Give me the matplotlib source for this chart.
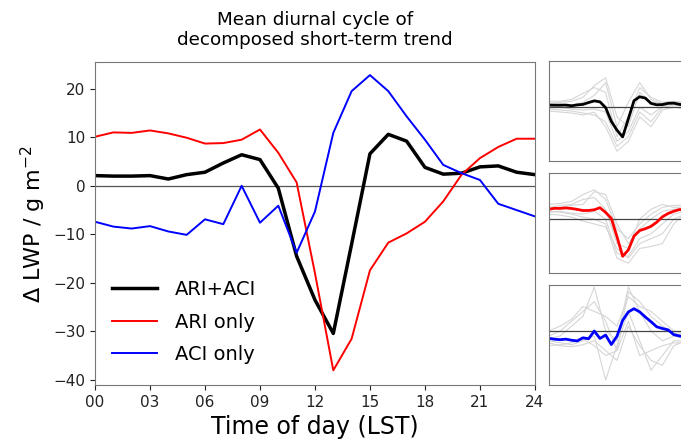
import numpy as np
import matplotlib.pyplot as plt

hours = np.arange(0, 25)
hours2 = np.arange(0, 25, 2)

# mean diurnal cycle (g m-2)
both = [2.1, 2.0, 2.0, 2.1, 1.4, 2.3, 2.8, 4.7, 6.4, 5.4, -0.5, -14.5, -23.5,
        -30.4, -12.0, 6.6, 10.6, 9.2, 3.8, 2.4, 2.6, 3.9, 4.1, 2.8, 2.3]
ari = [10.1, 11.0, 10.9, 11.4, 10.8, 9.9, 8.7, 8.8, 9.5, 11.6, 6.8, 0.7, -18.0,
       -38.0, -31.5, -17.4, -11.7, -9.8, -7.4, -3.2, 2.3, 5.7, 8.0, 9.7, 9.7]
aci = [-7.4, -8.4, -8.8, -8.3, -9.4, -10.1, -6.9, -7.9, 0.0, -7.6, -4.1, -13.8, -5.3,
       10.9, 19.5, 22.8, 19.5, 14.3, 9.5, 4.3, 2.6, 1.2, -3.7, -5.0, -6.3]

# individual members (grey), rough estimates every 2 h
both_members = [
    [4, 5, 6, 10, 22, 30, -10, -20, 15, 5, 4, 5, 4],
    [-2, -3, -4, -6, -8, -15, -40, -30, -5, -15, 0, 2, 1],
    [6, 6, 8, 14, 20, 15, -30, -10, 20, 10, 5, 6, 5],
    [-4, -5, -6, -8, -5, -20, -45, -35, -10, -20, -3, 0, -2],
    [3, 3, 2, 5, 12, 25, -20, 5, 25, 8, 3, 4, 3],
    [0, 0, -2, -3, -2, -5, -35, -25, 0, -8, 1, 3, 1],
]
ari_members = [
    [15, 16, 18, 25, 30, 20, -10, -20, -5, 5, 12, 14, 14],
    [5, 4, 2, -2, -5, -8, -30, -40, -25, -20, -15, 0, 5],
    [12, 14, 15, 20, 22, 10, -25, -30, 0, 10, 15, 12, 12],
    [8, 7, 5, 2, 0, -5, -40, -45, -30, -28, -25, -5, 6],
    [10, 12, 14, 15, 28, 25, -5, -25, -10, 0, 8, 10, 11],
    [7, 8, 6, 5, 8, 0, -35, -38, -20, -15, -5, 5, 8],
]
aci_members = [
    [-5, 0, 10, 20, 30, 10, -20, 40, 30, 15, 5, -2, -5],
    [-12, -15, -16, -14, -10, -20, -30, 5, -15, -30, -35, -15, -10],
    [-8, -5, 5, 15, 45, 0, -10, 45, 20, 0, -10, -5, -8],
    [-10, -12, -14, -10, -5, -50, -15, 20, -10, -40, -25, -10, -10],
    [0, 5, 12, 25, 20, 15, 5, 35, 25, 20, 10, 0, -3],
    [-15, -14, -12, -8, -15, -25, -20, 10, -25, -20, -15, -12, -12],
]

xticks = np.arange(0, 25, 3)
xticklabels = ["%02d" % h for h in xticks]

fig = plt.figure(figsize=(6.81, 4.46), dpi=100)
ax = fig.add_axes([0.1395, 0.137, 0.646, 0.724])

ax.axhline(0, color="#555555", lw=0.9)
ax.plot(hours, both, color="black", lw=2.5, label="ARI+ACI")
ax.plot(hours, ari, color="red", lw=1.4, label="ARI only")
ax.plot(hours, aci, color="blue", lw=1.4, label="ACI only")

ax.set_xlim(0, 24)
ax.set_ylim(-41, 25.5)
ax.set_xticks(xticks)
ax.set_xticklabels(xticklabels)
ax.set_yticks(np.arange(-40, 21, 10))
ax.tick_params(labelsize=11, colors="#222222")
for s in ax.spines.values():
    s.set_color("#777777")
ax.set_xlabel("Time of day (LST)", fontsize=17)
ax.set_ylabel("$\\Delta$ LWP / g m$^{-2}$", fontsize=16)
ax.set_title("Mean diurnal cycle of\ndecomposed short-term trend", fontsize=13.2, pad=12)
ax.legend(loc="lower left", frameon=False, fontsize=14, handlelength=2.3,
          handletextpad=0.9, labelspacing=0.7, bbox_to_anchor=(0.0, 0.01))

# small panels on the right
panels = [(both, both_members, "black", 0.639),
          (ari, ari_members, "red", 0.388),
          (aci, aci_members, "blue", 0.137)]
for mean, members, col, bottom in panels:
    sa = fig.add_axes([0.806, bottom, 0.2, 0.224])
    for m in members:
        sa.plot(hours2, m, color="#d6d6d6", lw=0.8)
    sa.axhline(0, color="#444444", lw=0.9)
    sa.plot(hours, mean, color=col, lw=2.0)
    sa.set_xlim(0, 24)
    sa.set_ylim(-55, 47)
    sa.set_xticks([])
    sa.set_yticks([])
    for s in sa.spines.values():
        s.set_color("#777777")

fig.savefig("out.png", dpi=100)
